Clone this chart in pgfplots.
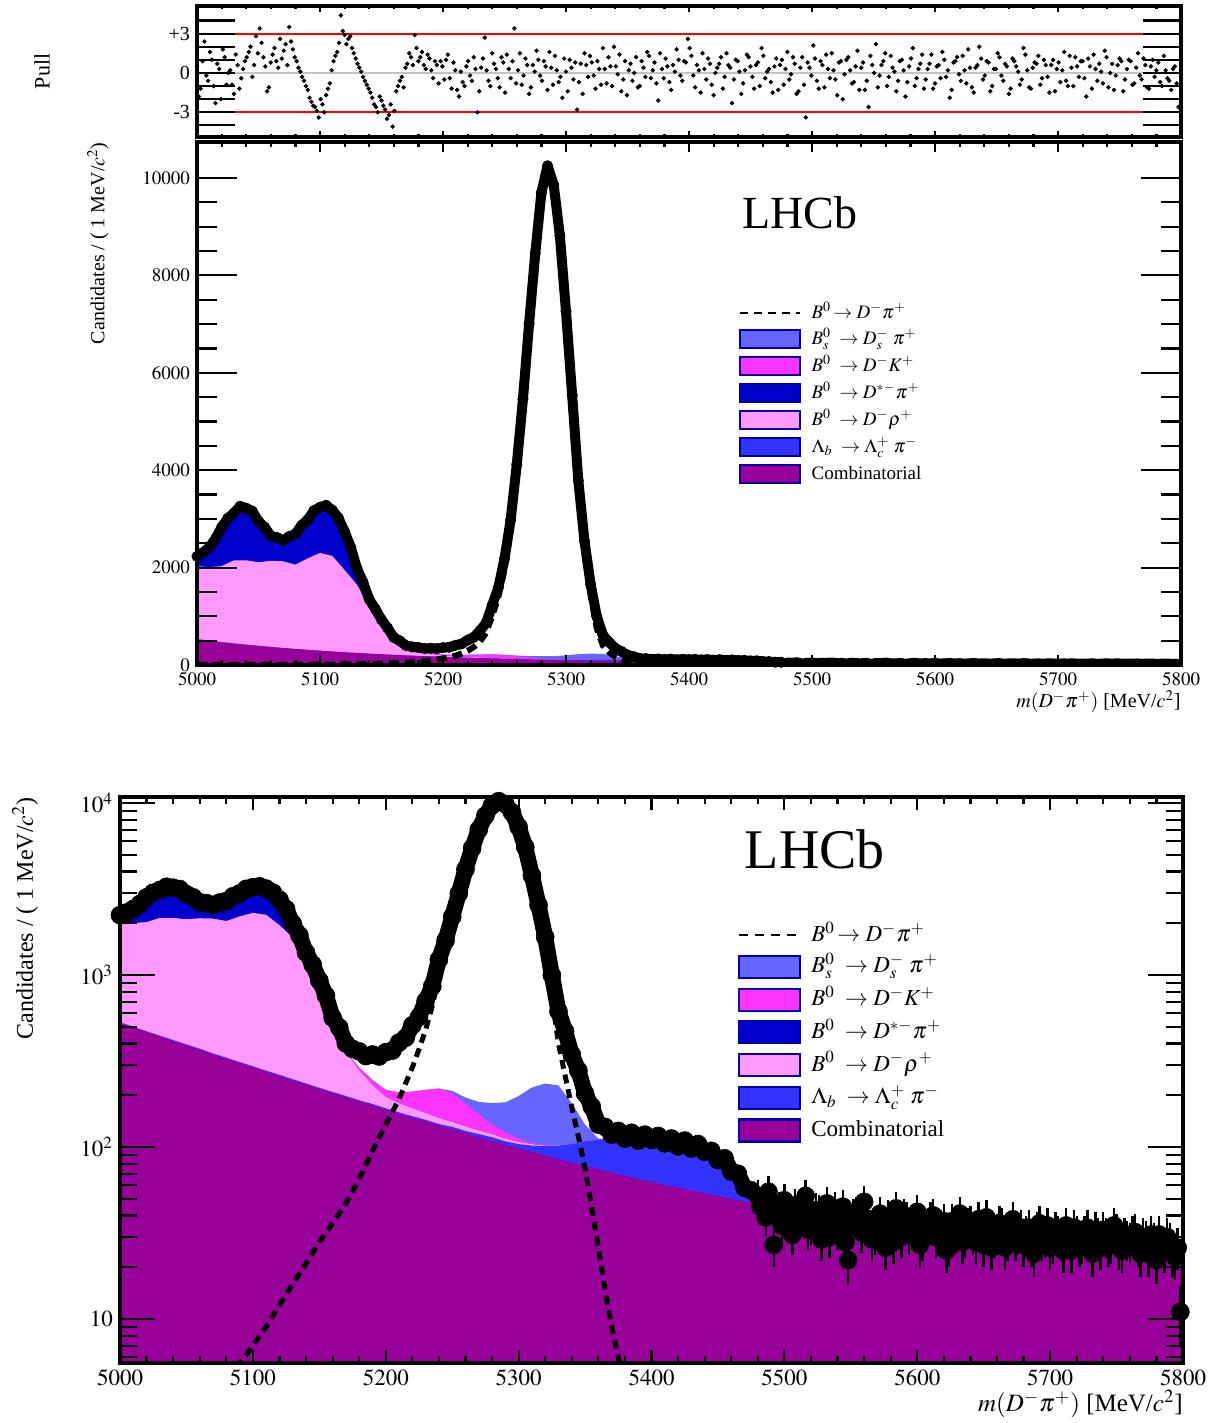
\documentclass[border=0pt]{standalone}
\usepackage{mathptmx}
\usepackage[no-math]{fontspec}
\setmainfont{Liberation Serif}
\usepackage{pgfplots}
\usepackage{pgfplotstable}
\pgfplotsset{compat=1.18}
\definecolor{cComb}{RGB}{153,0,153}
\definecolor{cLb}{RGB}{51,51,255}
\definecolor{cRho}{RGB}{255,153,255}
\definecolor{cDst}{RGB}{0,0,204}
\definecolor{cDK}{RGB}{255,51,255}
\definecolor{cBs}{RGB}{102,102,255}
\definecolor{legborder}{RGB}{0,0,170}
\definecolor{zeroline}{RGB}{195,195,195}

\pgfplotsset{
  rootaxis/.style={
    scale only axis, axis on top, clip=true,
    tick align=inside, tick pos=both, xticklabel pos=lower, yticklabel pos=left,
    axis line style={line width=2pt},
    tick style={black, line width=1.1pt},
    xticklabel style={/pgf/number format/1000 sep={}},
    yticklabel style={/pgf/number format/1000 sep={}},
    scaled ticks=false,
  },
  legdash/.style={legend image code/.code={\draw[black, line width=1pt, dash pattern=on 4pt off 3pt] (0pt,0pt) -- (30pt,0pt); \path[draw=none,fill=none] (0pt,0pt) rectangle (36pt,0.1pt);}},
  legbox/.style={legend image code/.code={\draw[fill=#1, draw=legborder, line width=1pt] (0pt,-4.5pt) rectangle (30pt,4.5pt); \path[draw=none,fill=none] (0pt,0pt) rectangle (36pt,0.1pt);}},
  legdashL/.style={legend image code/.code={\draw[black, line width=1.1pt, dash pattern=on 4.5pt off 3.5pt] (0pt,0pt) -- (30.5pt,0pt); \path[draw=none,fill=none] (0pt,0pt) rectangle (36pt,0.1pt);}},
  legboxL/.style={legend image code/.code={\draw[fill=#1, draw=legborder, line width=1.1pt] (0pt,-5.5pt) rectangle (30.5pt,5.5pt); \path[draw=none,fill=none] (0pt,0pt) rectangle (36pt,0.1pt);}},
}

% cumulative stacked components: comb, +Lambda_b, +D rho, +D* pi, +D K, +Bs
\pgfplotstableread{
x c1 c2 c3 c4 c5 c6
5000 526 532 2030 2200 2200 2200
5010 495 501 2010 2400 2400 2400
5020 466 471 2030 2800 2800 2800
5030 439 444 2150 3150 3150 3150
5040 414 419 2150 3250 3250 3250
5050 390 395 2110 2980 2980 2980
5060 368 373 2140 2680 2680 2680
5070 346 350 2130 2580 2580 2580
5080 327 331 2060 2700 2700 2700
5090 308 312 2190 3000 3000 3000
5100 291 295 2300 3240 3240 3240
5110 274 278 2240 3190 3190 3190
5120 259 263 1950 2750 2750 2750
5130 244 248 1650 1990 1990 1990
5140 231 234 1200 1350 1350 1350
5150 218 221 860 920 920 920
5160 206 209 520 540 540 540
5170 195 198 360 360 360 360
5180 184 187 280 280 290 290
5190 175 178 230 230 245 245
5200 165 168 196 196 215 215
5210 156 159 180 180 208 208
5220 148 151 168 168 210 210
5230 141 144 158 158 215 215
5240 133 136 148 148 219 219
5250 127 131 140 140 205 212
5260 120 124 132 132 180 194
5270 114 119 125 125 155 183
5280 109 114 119 119 135 180
5290 103 108 112 112 122 182
5300 98 104 107 107 112 198
5310 94 102 104 104 106 222
5320 89 101 102 102 103 234
5330 85 102 102.5 102.5 102.5 228
5340 81 104 104 104 104 180
5350 78 108 108 108 108 135
5360 74 110 110 110 110 112
5370 71 112 112 112 112 112
5380 68 112 112 112 112 112
5390 65 111 111 111 111 111
5400 63 111 111 111 111 111
5410 60 109 109 109 109 109
5420 58 106 106 106 106 106
5430 56 102 102 102 102 102
5440 54 96 96 96 96 96
5450 52 87 87 87 87 87
5460 50 75 75 75 75 75
5470 48 60 60 60 60 60
5480 47 47 47 47 47 47
5490 45 45 45 45 45 45
5500 44 44 44 44 44 44
5510 42 42 42 42 42 42
5520 41 41 41 41 41 41
5530 40 40 40 40 40 40
5540 39 39 39 39 39 39
5550 38 38 38 38 38 38
5560 37 37 37 37 37 37
5570 36 36 36 36 36 36
5580 35 35 35 35 35 35
5590 34 34 34 34 34 34
5600 33.6 33.6 33.6 33.6 33.6 33.6
5610 33 33 33 33 33 33
5620 32 32 32 32 32 32
5630 31.6 31.6 31.6 31.6 31.6 31.6
5640 31 31 31 31 31 31
5650 30.4 30.4 30.4 30.4 30.4 30.4
5660 29.9 29.9 29.9 29.9 29.9 29.9
5670 29.4 29.4 29.4 29.4 29.4 29.4
5680 29 29 29 29 29 29
5690 28.6 28.6 28.6 28.6 28.6 28.6
5700 28.2 28.2 28.2 28.2 28.2 28.2
5710 27.8 27.8 27.8 27.8 27.8 27.8
5720 27.5 27.5 27.5 27.5 27.5 27.5
5730 27.1 27.1 27.1 27.1 27.1 27.1
5740 26.8 26.8 26.8 26.8 26.8 26.8
5750 26.5 26.5 26.5 26.5 26.5 26.5
5760 26.3 26.3 26.3 26.3 26.3 26.3
5770 26 26 26 26 26 26
5780 25.8 25.8 25.8 25.8 25.8 25.8
5790 25.5 25.5 25.5 25.5 25.5 25.5
5800 25.3 25.3 25.3 25.3 25.3 25.3
}\comp

% signal B0 -> D- pi+
\pgfplotstableread{
x y
5000 1.5
5010 1.8
5020 2.1
5030 2.5
5040 3
5050 3.5
5060 4
5070 4.5
5080 5
5090 5.5
5100 7
5110 9
5120 12
5130 16
5140 21
5150 28
5160 36
5170 47
5180 65
5190 95
5200 135
5205 160
5210 190
5215 235
5220 290
5225 370
5230 480
5235 660
5240 1000
5245 1400
5250 1950
5255 2800
5260 3900
5265 5300
5270 6800
5275 8300
5280 9500
5285 10100
5290 9700
5295 8600
5300 7100
5305 5300
5310 3600
5315 2300
5320 1450
5325 750
5330 400
5335 260
5340 170
5345 115
5350 75
5355 45
5360 26
5365 15
5370 9
5375 6
5380 4
5390 2.5
5400 1.8
5450 1
5500 0.7
5600 0.5
5700 0.4
5800 0.3
}\sig

% data, dense region
\pgfplotstableread{
x y
5000 2230
5005 2310
5010 2420
5015 2590
5020 2830
5025 3010
5030 3120
5035 3260
5040 3220
5045 3160
5050 2950
5055 2830
5060 2650
5065 2620
5070 2560
5075 2640
5080 2690
5085 2870
5090 2980
5095 3170
5100 3240
5105 3280
5110 3180
5115 3020
5120 2740
5125 2420
5130 1990
5135 1700
5140 1350
5145 1150
5150 930
5155 760
5160 565
5165 495
5170 400
5175 372
5180 360
5185 338
5190 345
5195 336
5200 356
5205 364
5210 405
5215 432
5220 510
5225 570
5230 705
5235 860
5240 1230
5245 1590
5250 2180
5255 2980
5260 4120
5265 5460
5270 7010
5275 8450
5280 9700
5285 10250
5290 9860
5295 8820
5300 7260
5305 5540
5310 3790
5315 2550
5320 1660
5325 1000
5330 615
5335 470
5340 345
5345 278
5350 205
5355 172
5360 135
5365 131
5370 118
5375 124
5380 112
5385 121
5390 109
5395 118
5400 110
5405 116
5410 105
5415 112
5420 101
5425 109
5430 98
5435 104
5440 94
5445 95
5450 84
5455 86
5460 72
5465 70
5470 58
5475 56
}\dataA

% data, high-mass region with errors
\pgfplotstableread{
x y e
5480 52 7.2
5484 47 6.9
5488 55 7.4
5492 27 5.2
5496 44 6.6
5500 49 7.0
5504 38 6.2
5508 46 6.8
5512 41 6.4
5516 52 7.2
5520 35 5.9
5524 43 6.6
5528 29 5.4
5532 47 6.9
5536 39 6.2
5540 33 5.7
5544 45 6.7
5548 22 4.7
5552 40 6.3
5556 37 6.1
5560 48 6.9
5564 34 5.8
5568 31 5.6
5572 41 6.4
5576 26 5.1
5580 36 6.0
5584 44 6.6
5588 30 5.5
5592 38 6.2
5596 33 5.7
5600 42 6.5
5604 29 5.4
5608 35 5.9
5612 40 6.3
5616 31 5.6
5620 37 6.1
5624 27 5.2
5628 34 5.8
5632 41 6.4
5636 30 5.5
5640 36 6.0
5644 28 5.3
5648 33 5.7
5652 39 6.2
5656 26 5.1
5660 32 5.7
5664 35 5.9
5668 29 5.4
5672 38 6.2
5676 31 5.6
5680 27 5.2
5684 34 5.8
5688 24 4.9
5692 36 6.0
5696 30 5.5
5700 26 5.1
5704 33 5.7
5708 29 5.4
5712 35 5.9
5716 25 5.0
5720 31 5.6
5724 28 5.3
5728 34 5.8
5732 24 4.9
5736 30 5.5
5740 33 5.7
5744 27 5.2
5748 35 5.9
5752 26 5.1
5756 30 5.5
5760 28 5.3
5764 32 5.7
5768 24 4.9
5772 29 5.4
5776 31 5.6
5780 22 4.7
5784 27 5.2
5788 30 5.5
5792 24 4.9
5796 26 5.1
5798 11 3.3
}\dataB

% data, high-mass region, interleaved bins
\pgfplotstableread{
x y e
5482 45 6.7
5486 39 6.2
5490 48 6.9
5494 41 6.4
5498 35 5.9
5502 43 6.6
5506 31 5.6
5510 39 6.2
5514 45 6.7
5518 33 5.7
5522 38 6.2
5526 42 6.5
5530 36 6.0
5534 30 5.5
5538 44 6.6
5542 37 6.1
5546 28 5.3
5550 35 5.9
5554 41 6.4
5558 32 5.7
5562 38 6.2
5566 29 5.4
5570 36 6.0
5574 33 5.7
5578 39 6.2
5582 28 5.3
5586 34 5.8
5590 40 6.3
5594 31 5.6
5598 36 6.0
5602 27 5.2
5606 33 5.7
5610 38 6.2
5614 30 5.5
5618 34 5.8
5622 25 5.0
5626 37 6.1
5630 32 5.7
5634 28 5.3
5638 35 5.9
5642 31 5.6
5646 38 6.2
5650 27 5.2
5654 33 5.7
5658 30 5.5
5662 36 6.0
5666 26 5.1
5670 32 5.7
5674 29 5.4
5678 34 5.8
5682 31 5.6
5686 27 5.2
5690 33 5.7
5694 29 5.4
5698 35 5.9
5702 28 5.3
5706 31 5.6
5710 25 5.0
5714 30 5.5
5718 34 5.8
5722 27 5.2
5726 31 5.6
5730 29 5.4
5734 33 5.7
5738 26 5.1
5742 30 5.5
5746 28 5.3
5750 32 5.7
5754 25 5.0
5758 29 5.4
5762 31 5.6
5766 27 5.2
5770 30 5.5
5774 24 4.9
5778 28 5.3
5782 31 5.6
5786 25 5.0
5790 28 5.3
5794 23 4.8
}\dataC

% pulls
\pgfplotstableread{
x y
5000 0.5
5003 -1.2
5006 2.4
5009 -0.6
5012 1.0
5015 -2.3
5018 0.3
5021 1.8
5024 -0.9
5027 0.2
5030 -1.6
5033 0.6
5036 -0.4
5039 0.9
5042 1.6
5045 -0.3
5048 2.8
5051 3.4
5054 1.2
5057 -1.4
5060 0.8
5063 1.9
5066 0.4
5069 1.1
5072 2.2
5075 3.5
5078 1.8
5081 0.9
5084 0.1
5087 -0.6
5090 -1.3
5093 -2.2
5096 -2.6
5099 -3.4
5102 -2.4
5105 -1.7
5108 -0.8
5111 0.9
5114 1.6
5117 4.4
5120 2.9
5123 2.6
5126 1.9
5129 1.1
5132 0.4
5135 -0.3
5138 -0.9
5141 -1.5
5144 -2.4
5147 -3.0
5150 -2.1
5153 -2.8
5156 -3.2
5159 -4.1
5162 -1.4
5165 -0.6
5168 -1.1
5171 0.7
5174 1.2
5177 2.9
5180 0.9
5183 1.6
5186 0.3
5189 1.1
5192 -0.4
5195 0.6
5198 0.9
5201 -0.5
5204 1.4
5207 -1.2
5210 0.2
5213 -1.8
5216 -0.7
5219 0.5
5222 -0.2
5225 1.2
5228 -3.0
5231 0.4
5234 2.7
5237 -0.6
5240 1.5
5243 0.3
5246 -1.1
5249 0.8
5252 1.4
5255 -0.4
5258 3.4
5261 0.2
5264 -0.9
5267 1.1
5270 -1.6
5273 0.6
5276 1.7
5279 -0.2
5282 0.9
5285 -1.3
5288 0.4
5291 1.3
5294 -0.7
5297 -1.9
5300 0.1
5303 1.0
5306 -0.5
5309 -2.8
5312 0.7
5315 1.5
5318 -0.3
5321 0.8
5324 -1.2
5327 0.3
5330 1.9
5333 -0.8
5336 0.5
5339 2.0
5342 -0.1
5345 -1.4
5348 0.9
5351 0.2
5354 -0.6
5357 1.2
5360 -1.0
5363 0.4
5366 1.6
5369 -0.4
5372 0.8
5375 -2.1
5378 0.3
5381 1.1
5384 -0.7
5387 0.6
5390 1.8
5393 -0.2
5396 0.9
5399 2.6
5402 1.3
5405 -1.1
5408 0.2
5411 1.5
5414 -0.5
5417 0.7
5420 -1.7
5423 0.4
5426 1.2
5429 -0.3
5432 0.6
5435 -2.3
5438 1.0
5441 0.1
5444 -0.8
5447 1.4
5450 0.5
5453 -1.2
5456 0.8
5459 1.9
5462 -0.4
5465 0.3
5468 -1.5
5471 1.1
5474 0.6
5477 -0.9
5480 1.6
5483 -0.1
5486 0.7
5489 -1.4
5492 1.2
5495 -3.4
5498 0.4
5501 2.1
5504 -0.6
5507 0.9
5510 -1.1
5513 0.3
5516 1.5
5519 -0.5
5522 0.8
5525 -2.0
5528 1.0
5531 0.2
5534 -0.7
5537 1.7
5540 0.4
5543 -1.3
5546 -2.6
5549 0.6
5552 2.2
5555 -0.2
5558 0.9
5561 -1.0
5564 1.3
5567 0.1
5570 -0.6
5573 1.0
5576 -1.8
5579 0.5
5582 1.9
5585 -0.4
5588 0.7
5591 -1.2
5594 0.3
5597 1.4
5600 -0.8
5603 0.6
5606 1.6
5609 -0.3
5612 -1.9
5615 0.8
5618 1.2
5621 -0.6
5624 0.2
5627 1.8
5630 -1.1
5633 0.4
5636 2.0
5639 -0.5
5642 0.9
5645 -1.4
5648 0.3
5651 1.5
5654 -0.2
5657 0.7
5660 -1.6
5663 1.1
5666 0.5
5669 -0.9
5672 1.9
5675 0.2
5678 -1.2
5681 0.8
5684 1.3
5687 -0.4
5690 0.6
5693 -1.5
5696 1.0
5699 0.3
5702 -0.7
5705 1.6
5708 -1.0
5711 0.4
5714 1.2
5717 -0.3
5720 0.9
5723 -1.8
5726 0.5
5729 1.4
5732 -0.6
5735 0.1
5738 1.7
5741 -1.1
5744 0.7
5747 -0.2
5750 1.1
5753 -1.4
5756 0.3
5759 0.9
5762 -0.8
5765 1.5
5768 -0.5
5771 0.6
5774 -1.2
5777 1.0
5780 0.2
5783 -0.7
5786 1.3
5789 -0.4
5792 -1.3
5795 0.5
5798 -2.6
}\pull

% pulls, interleaved bins
\pgfplotstableread{
x y
5001.5 -1.8
5004.5 0.9
5007.5 -0.2
5010.5 1.6
5013.5 -1.0
5016.5 0.7
5019.5 -2.0
5022.5 1.2
5025.5 0.0
5028.5 -0.9
5031.5 1.4
5034.5 -1.2
5037.5 0.3
5040.5 1.2
5043.5 2.0
5046.5 0.6
5049.5 1.5
5052.5 2.3
5055.5 0.5
5058.5 -1.1
5061.5 1.4
5064.5 0.9
5067.5 2.6
5070.5 1.7
5073.5 0.6
5076.5 2.4
5079.5 1.2
5082.5 0.4
5085.5 -0.3
5088.5 -1.0
5091.5 -1.9
5094.5 -2.5
5097.5 -2.9
5100.5 -2.0
5103.5 -3.0
5106.5 -1.2
5109.5 0.2
5112.5 1.3
5115.5 2.3
5118.5 3.2
5121.5 2.2
5124.5 2.8
5127.5 1.5
5130.5 0.7
5133.5 0.1
5136.5 -0.6
5139.5 -1.2
5142.5 -1.9
5145.5 -2.6
5148.5 -1.8
5151.5 -2.5
5154.5 -3.5
5157.5 -2.4
5160.5 -2.9
5163.5 -1.0
5166.5 -0.3
5169.5 0.4
5172.5 1.5
5175.5 0.6
5178.5 1.9
5181.5 1.2
5184.5 0.6
5187.5 1.4
5190.5 0.2
5193.5 0.9
5196.5 -0.8
5199.5 0.5
5202.5 1.0
5205.5 -0.4
5208.5 0.8
5211.5 -1.3
5214.5 0.1
5217.5 -1.0
5220.5 0.9
5223.5 -0.6
5226.5 0.3
5229.5 -1.4
5232.5 1.1
5235.5 0.2
5238.5 -1.0
5241.5 0.7
5244.5 -0.4
5247.5 1.2
5250.5 -1.5
5253.5 0.3
5256.5 0.9
5259.5 -0.8
5262.5 1.5
5265.5 -0.2
5268.5 0.6
5271.5 -1.1
5274.5 0.1
5277.5 1.0
5280.5 -0.6
5283.5 0.5
5286.5 1.6
5289.5 -0.9
5292.5 0.2
5295.5 -0.3
5298.5 1.1
5301.5 -1.4
5304.5 0.4
5307.5 0.8
5310.5 -0.7
5313.5 -1.6
5316.5 0.6
5319.5 1.3
5322.5 -0.2
5325.5 0.9
5328.5 -0.9
5331.5 0.3
5334.5 1.2
5337.5 -1.0
5340.5 0.5
5343.5 1.4
5346.5 -0.5
5349.5 -1.7
5352.5 0.7
5355.5 0.0
5358.5 -1.1
5361.5 0.9
5364.5 -0.3
5367.5 1.3
5370.5 0.2
5373.5 -0.8
5376.5 1.5
5379.5 -0.4
5382.5 0.5
5385.5 -1.3
5388.5 0.1
5391.5 1.0
5394.5 -0.6
5397.5 0.8
5400.5 1.9
5403.5 -0.2
5406.5 0.6
5409.5 -1.5
5412.5 0.3
5415.5 1.1
5418.5 -0.9
5421.5 0.0
5424.5 0.7
5427.5 -1.2
5430.5 1.5
5433.5 0.4
5436.5 -0.5
5439.5 0.9
5442.5 -1.6
5445.5 0.2
5448.5 1.2
5451.5 -0.3
5454.5 0.6
5457.5 -1.0
5460.5 1.3
5463.5 0.1
5466.5 -0.7
5469.5 0.5
5472.5 -1.3
5475.5 1.0
5478.5 0.3
5481.5 -0.5
5484.5 1.2
5487.5 -1.6
5490.5 0.4
5493.5 -0.9
5496.5 0.8
5499.5 -0.2
5502.5 1.1
5505.5 -1.2
5508.5 0.6
5511.5 1.4
5514.5 -0.4
5517.5 0.2
5520.5 -1.7
5523.5 0.9
5526.5 -0.1
5529.5 1.2
5532.5 -0.8
5535.5 0.5
5538.5 -1.3
5541.5 0.8
5544.5 -0.6
5547.5 1.3
5550.5 0.0
5553.5 -1.1
5556.5 0.6
5559.5 1.5
5562.5 -0.3
5565.5 0.4
5568.5 -1.4
5571.5 0.9
5574.5 0.2
5577.5 -0.7
5580.5 1.1
5583.5 -1.0
5586.5 0.3
5589.5 1.4
5592.5 -0.5
5595.5 0.7
5598.5 -1.2
5601.5 0.5
5604.5 -0.4
5607.5 1.0
5610.5 0.2
5613.5 -1.3
5616.5 0.9
5619.5 -0.1
5622.5 1.3
5625.5 -0.8
5628.5 0.4
5631.5 -1.5
5634.5 0.6
5637.5 1.1
5640.5 -0.2
5643.5 0.8
5646.5 -1.0
5649.5 0.3
5652.5 1.2
5655.5 -0.6
5658.5 0.5
5661.5 -1.2
5664.5 0.9
5667.5 0.1
5670.5 -0.5
5673.5 1.4
5676.5 -1.1
5679.5 0.4
5682.5 0.7
5685.5 -0.9
5688.5 1.0
5691.5 -0.3
5694.5 0.6
5697.5 -1.4
5700.5 0.8
5703.5 0.2
5706.5 -0.6
5709.5 1.3
5712.5 -1.0
5715.5 0.5
5718.5 0.9
5721.5 -0.4
5724.5 1.1
5727.5 -1.2
5730.5 0.3
5733.5 0.7
5736.5 -0.8
5739.5 1.2
5742.5 0.0
5745.5 -1.3
5748.5 0.6
5751.5 0.9
5754.5 -0.5
5757.5 1.0
5760.5 -0.9
5763.5 0.4
5766.5 -0.2
5769.5 1.1
5772.5 -1.1
5775.5 0.5
5778.5 -0.3
5781.5 0.8
5784.5 -1.0
5787.5 0.2
5790.5 -0.6
5793.5 0.3
5796.5 -0.8
5799.5 -1.0
}\pullb

\begin{document}
\begin{tikzpicture}
\useasboundingbox (0pt,0pt) rectangle (613.5pt,-711.5pt);

% ---------------- pull panel ----------------
\begin{axis}[rootaxis,
  at={(98.5pt,-3pt)}, anchor=north west, width=492pt, height=65.5pt,
  xmin=5000, xmax=5800, ymin=-4.89, ymax=5.11,
  xtick={5000,5100,...,5800}, xticklabels={}, minor x tick num=4,
  ytick={-4,-3,...,4}, yticklabels={,-3,,,0,,,+3,},
  xtick style={/pgfplots/major tick length=3pt,/pgfplots/minor tick length=1.5pt},
  ytick style={/pgfplots/major tick length=19pt},
  tick label style={font=\fontsize{10}{12}\selectfont},
  ylabel={Pull},
  ylabel style={at={(rel axis cs:-0.1575,0.5)}, anchor=center, font=\fontsize{11}{13}\selectfont},
]
\addplot[zeroline, line width=0.9pt, forget plot] coordinates {(5000,0) (5800,0)};
\addplot[red, line width=1.1pt, forget plot] coordinates {(5000,3) (5800,3)};
\addplot[red, line width=1.1pt, forget plot] coordinates {(5000,-3) (5800,-3)};
\addplot[only marks, mark=*, mark size=0.9pt, black, forget plot] table[x=x,y=y] {\pull};
\addplot[only marks, mark=*, mark size=0.9pt, black, forget plot] table[x=x,y=y] {\pullb};
\end{axis}

% ---------------- linear panel ----------------
\begin{axis}[rootaxis,
  at={(98.5pt,-71pt)}, anchor=north west, width=492pt, height=261.5pt,
  xmin=5000, xmax=5800, ymin=0, ymax=10739,
  xtick={5000,5100,...,5800}, minor x tick num=4,
  ytick={0,2000,...,10000}, minor y tick num=3,
  xtick style={/pgfplots/major tick length=5pt,/pgfplots/minor tick length=2.5pt},
  ytick style={/pgfplots/major tick length=20pt,/pgfplots/minor tick length=10pt},
  tick label style={font=\fontsize{9.5}{11}\selectfont},
  xlabel={$m(D^{-}\pi^{+})$ [MeV/$c^{2}$]},
  xlabel style={at={(rel axis cs:1,0)}, anchor=north east, yshift=-12.5pt, inner sep=0pt, font=\fontsize{10}{12}\selectfont},
  ylabel={Candidates / ( 1 MeV/$c^{2}$)},
  ylabel style={at={(rel axis cs:-0.1006,1)}, anchor=east, inner sep=0pt, font=\fontsize{10}{12}\selectfont},
  legend cell align=left,
  legend style={draw=none, fill=none, at={(axis cs:5440,7413)}, anchor=north west,
    font=\fontsize{9.5}{11}\selectfont, row sep=3.5pt, inner sep=0pt,
    nodes={inner sep=0pt, text height=7pt, text depth=2pt}},
]
\addplot[fill=cBs, draw=none, forget plot] table[x=x,y=c6] {\comp} \closedcycle;
\addplot[fill=cDK, draw=none, forget plot] table[x=x,y=c5] {\comp} \closedcycle;
\addplot[fill=cDst, draw=none, forget plot] table[x=x,y=c4] {\comp} \closedcycle;
\addplot[fill=cRho, draw=none, forget plot] table[x=x,y=c3] {\comp} \closedcycle;
\addplot[fill=cLb, draw=none, forget plot] table[x=x,y=c2] {\comp} \closedcycle;
\addplot[fill=cComb, draw=none, forget plot] table[x=x,y=c1] {\comp} \closedcycle;
\addplot[black, line width=3pt, dash pattern=on 5pt off 3pt, forget plot] table[x=x,y=y] {\sig};
\addplot[black, line width=5pt, line join=round, line cap=round, mark=*, mark size=2.6pt, mark options={line width=0.3pt}, forget plot] table[x=x,y=y] {\dataA};
\addplot[black, line width=5pt, line join=round, line cap=round, forget plot] table[x=x,y=y] {\dataB};
\addlegendimage{legdash}
\addlegendentry{$B^{0}\!\rightarrow D^{-}\pi^{+}$}
\addlegendimage{legbox=cBs}
\addlegendentry{$B_{s}^{0}\;\rightarrow D_{s}^{-}\;\pi^{+}$}
\addlegendimage{legbox=cDK}
\addlegendentry{$B^{0}\;\rightarrow D^{-}K^{+}$}
\addlegendimage{legbox=cDst}
\addlegendentry{$B^{0}\;\rightarrow D^{*-}\pi^{+}$}
\addlegendimage{legbox=cRho}
\addlegendentry{$B^{0}\;\rightarrow D^{-}\rho^{+}$}
\addlegendimage{legbox=cLb}
\addlegendentry{$\Lambda_{b}\;\rightarrow \Lambda_{c}^{+}\;\pi^{-}$}
\addlegendimage{legbox=cComb}
\addlegendentry{Combinatorial}
\node[anchor=base west, inner sep=0pt, font=\fontsize{23}{26}\selectfont] at (axis cs:5443,8953) {LHCb};
\end{axis}

% ---------------- log panel ----------------
\begin{axis}[rootaxis,
  at={(60pt,-398.5pt)}, anchor=north west, width=531.5pt, height=283pt,
  ymode=log,
  xmin=5000, xmax=5800, ymin=5.55, ymax=10839,
  xtick={5000,5100,...,5800}, minor x tick num=4,
  ytick={10,100,1000,10000}, yticklabels={$10$,$10^{2}$,$10^{3}$,$10^{4}$},
  minor ytick={6,7,8,9,20,30,40,50,60,70,80,90,200,300,400,500,600,700,800,900,2000,3000,4000,5000,6000,7000,8000,9000},
  xtick style={/pgfplots/major tick length=6.5pt,/pgfplots/minor tick length=3.5pt},
  ytick style={/pgfplots/major tick length=17.5pt,/pgfplots/minor tick length=8.5pt},
  tick label style={font=\fontsize{11.5}{13}\selectfont},
  xlabel={$m(D^{-}\pi^{+})$ [MeV/$c^{2}$]},
  xlabel style={at={(rel axis cs:1,0)}, anchor=north east, yshift=-13.5pt, inner sep=0pt, font=\fontsize{12.5}{15}\selectfont},
  ylabel={Candidates / ( 1 MeV/$c^{2}$)},
  ylabel style={at={(rel axis cs:-0.0894,1)}, anchor=east, inner sep=0pt, font=\fontsize{12}{14}\selectfont},
  legend cell align=left,
  legend style={draw=none, fill=none, at={(axis cs:5465,1981)}, anchor=north west,
    font=\fontsize{11.5}{13}\selectfont, row sep=4.25pt, inner sep=0pt,
    nodes={inner sep=0pt, text height=8.5pt, text depth=2.5pt}},
]
\addplot[fill=cBs, draw=none, forget plot] table[x=x,y=c6] {\comp} \closedcycle;
\addplot[fill=cDK, draw=none, forget plot] table[x=x,y=c5] {\comp} \closedcycle;
\addplot[fill=cDst, draw=none, forget plot] table[x=x,y=c4] {\comp} \closedcycle;
\addplot[fill=cRho, draw=none, forget plot] table[x=x,y=c3] {\comp} \closedcycle;
\addplot[fill=cLb, draw=none, forget plot] table[x=x,y=c2] {\comp} \closedcycle;
\addplot[fill=cComb, draw=none, forget plot] table[x=x,y=c1] {\comp} \closedcycle;
\addplot[black, line width=2.5pt, dash pattern=on 4.5pt off 3pt, forget plot] table[x=x,y=y] {\sig};
\addplot[black, line width=8pt, line join=round, line cap=round, mark=*, mark size=4.5pt, mark options={line width=0.3pt}, forget plot] table[x=x,y=y] {\dataA};
\addplot[black, only marks, mark=*, mark size=4.5pt, mark options={line width=0.3pt}, forget plot,
  error bars/.cd, y dir=both, y explicit, error mark=-,
  error bar style={line width=1.2pt, black},
  error mark options={line width=1.2pt, mark size=3pt, black}]
  table[x=x, y=y, y error=e] {\dataB};
\addplot[black, only marks, mark=*, mark size=4.5pt, mark options={line width=0.3pt}, forget plot,
  error bars/.cd, y dir=both, y explicit, error mark=-,
  error bar style={line width=1.2pt, black},
  error mark options={line width=1.2pt, mark size=3pt, black}]
  table[x=x, y=y, y error=e] {\dataC};
\addlegendimage{legdashL}
\addlegendentry{$B^{0}\!\rightarrow D^{-}\pi^{+}$}
\addlegendimage{legboxL=cBs}
\addlegendentry{$B_{s}^{0}\;\rightarrow D_{s}^{-}\;\pi^{+}$}
\addlegendimage{legboxL=cDK}
\addlegendentry{$B^{0}\;\rightarrow D^{-}K^{+}$}
\addlegendimage{legboxL=cDst}
\addlegendentry{$B^{0}\;\rightarrow D^{*-}\pi^{+}$}
\addlegendimage{legboxL=cRho}
\addlegendentry{$B^{0}\;\rightarrow D^{-}\rho^{+}$}
\addlegendimage{legboxL=cLb}
\addlegendentry{$\Lambda_{b}\;\rightarrow \Lambda_{c}^{+}\;\pi^{-}$}
\addlegendimage{legboxL=cComb}
\addlegendentry{Combinatorial}
\node[anchor=base west, inner sep=0pt, font=\fontsize{28}{32}\selectfont] at (axis cs:5470,4188) {LHCb};
\end{axis}
\end{tikzpicture}
\end{document}
